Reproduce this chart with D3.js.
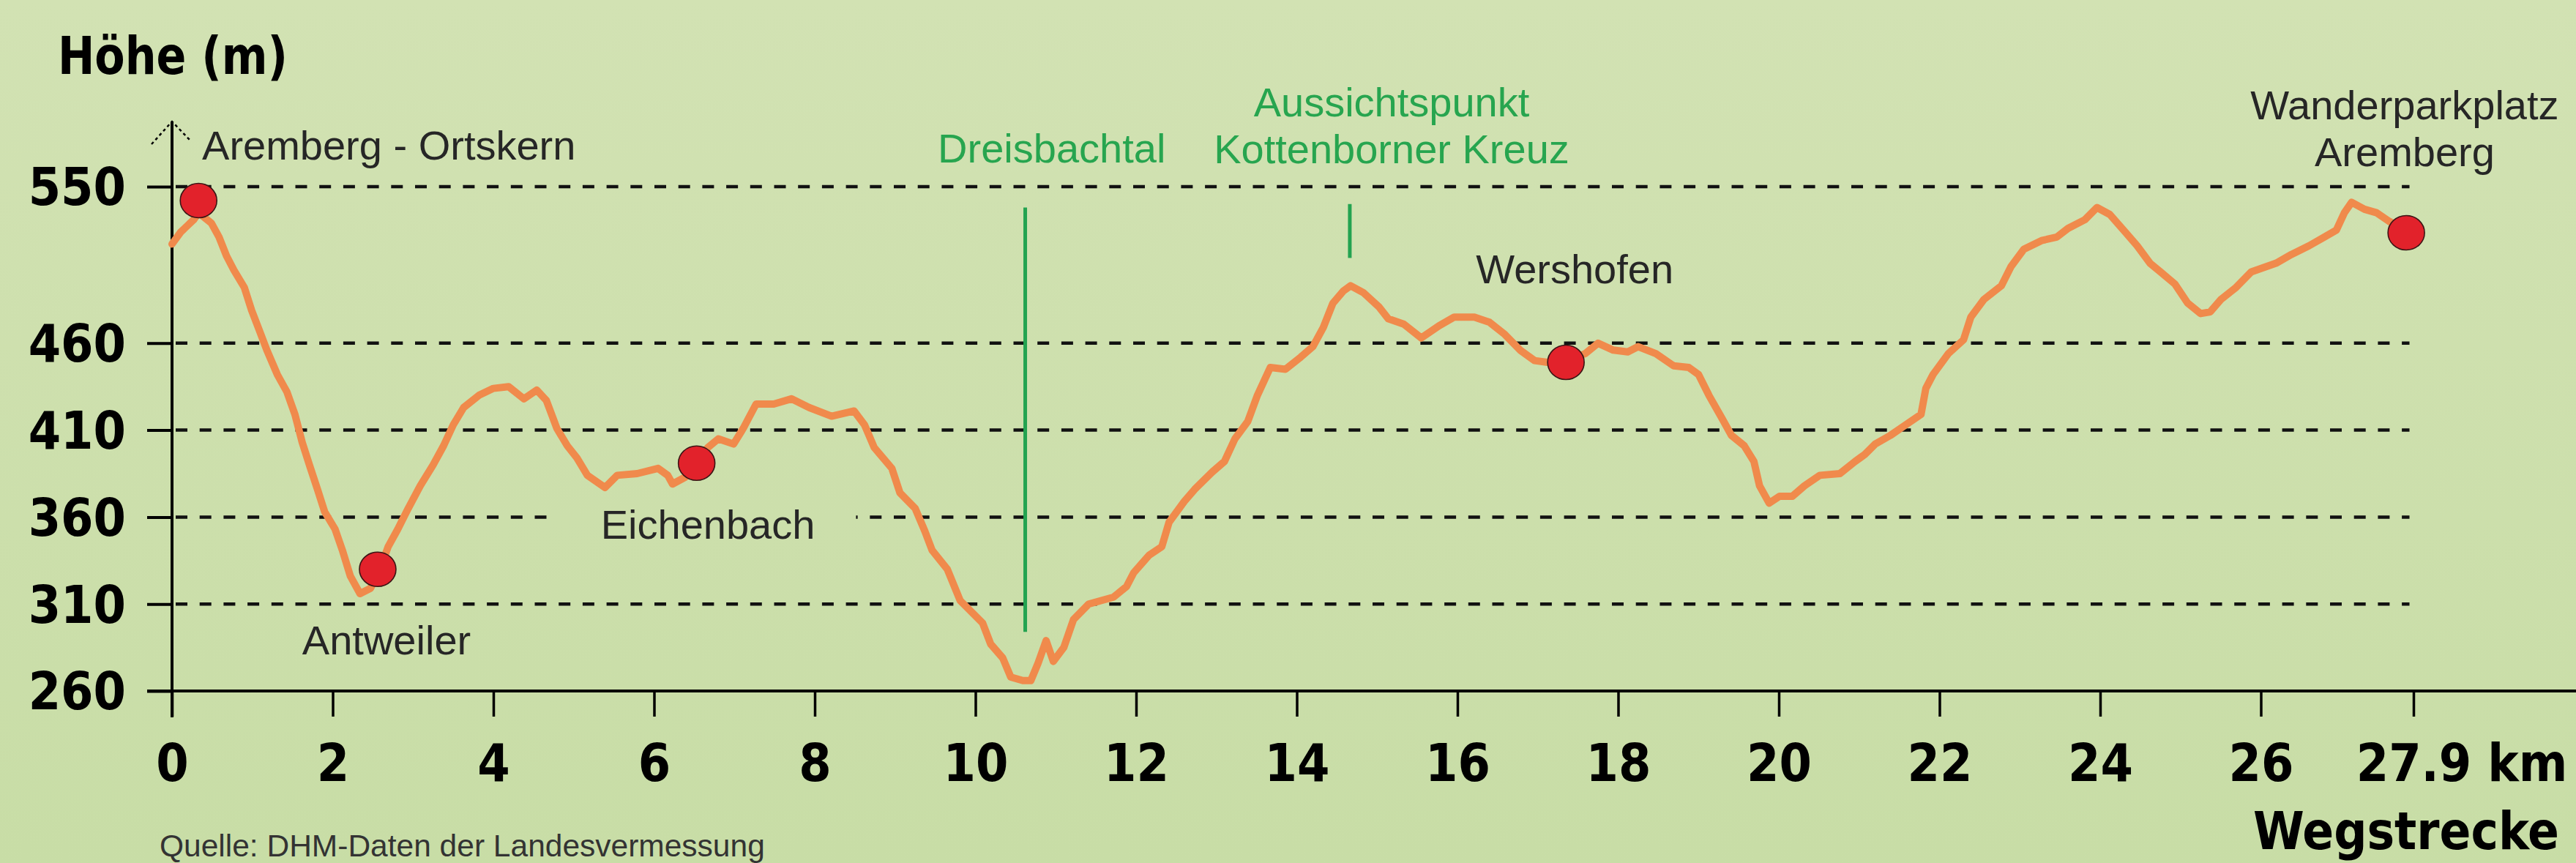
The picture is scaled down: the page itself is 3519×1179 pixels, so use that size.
<!DOCTYPE html>
<html>
<head>
<meta charset="utf-8">
<script src="https://cdn.jsdelivr.net/npm/d3@7"></script>
<style>
body { margin: 0; background: #cde0ad; }
svg { display: block; }
.ax text, .axtitle {
  font-family: "DejaVu Sans Condensed", "DejaVu Sans", sans-serif;
  font-stretch: condensed;
  font-weight: bold;
  font-size: 71px;
  fill: #000;
}
.lbl { font-family: "Liberation Sans", Arial, sans-serif; font-size: 56px; fill: #262626; }
.lbl.green { fill: #27a54f; }
.quelle { font-family: "Liberation Sans", Arial, sans-serif; font-size: 42.5px; fill: #333; }
</style>
</head>
<body>
<svg id="chart" width="3519" height="1179"></svg>
<script>
// Hoehenprofil Aremberg-Rundweg, Werte
var strecke = [
  0, 0.11, 0.27, 0.33, 0.49, 0.585, 0.68, 0.77, 0.9, 0.99,
  1.09, 1.18, 1.31, 1.43, 1.53, 1.62, 1.71, 1.81, 1.9, 2.03,
  2.12, 2.22, 2.34, 2.47, 2.59, 2.69, 2.81, 2.94, 3.09, 3.25,
  3.38, 3.5, 3.63, 3.82, 4.0, 4.19, 4.38, 4.54, 4.66, 4.79,
  4.92, 5.04, 5.17, 5.39, 5.54, 5.79, 6.05, 6.17, 6.23, 6.39,
  6.53, 6.67, 6.8, 6.99, 7.11, 7.27, 7.49, 7.71, 7.93, 8.21,
  8.49, 8.62, 8.74, 8.96, 9.06, 9.25, 9.37, 9.46, 9.65, 9.81,
  9.94, 10.09, 10.19, 10.34, 10.44, 10.59, 10.69, 10.78, 10.88, 10.97,
  11.1, 11.22, 11.41, 11.72, 11.88, 11.97, 12.16, 12.32, 12.41, 12.6,
  12.73, 12.95, 13.1, 13.23, 13.39, 13.51, 13.67, 13.86, 14.05, 14.2,
  14.33, 14.45, 14.58, 14.67, 14.83, 15.02, 15.14, 15.33, 15.55, 15.77,
  15.96, 16.21, 16.4, 16.59, 16.78, 16.96, 17.12, 17.35, 17.59, 17.75,
  17.94, 18.12, 18.25, 18.47, 18.69, 18.88, 19.0, 19.13, 19.29, 19.41,
  19.57, 19.69, 19.76, 19.88, 20.01, 20.17, 20.32, 20.51, 20.76, 20.95,
  21.07, 21.2, 21.39, 21.58, 21.77, 21.83, 21.92, 22.11, 22.3, 22.39,
  22.55, 22.77, 22.89, 23.05, 23.27, 23.46, 23.6, 23.81, 23.96, 24.12,
  24.31, 24.46, 24.62, 24.75, 24.93, 25.09, 25.25, 25.37, 25.5, 25.69,
  25.88, 26.19, 26.38, 26.6, 26.79, 26.94, 27.04, 27.13, 27.29, 27.44,
  27.6, 27.72
];
var hoehe = [
  517, 524, 531, 535, 529, 521, 510, 502, 492, 479,
  467, 456, 442, 432, 419, 403, 390, 376, 363, 353,
  341, 326, 316, 319, 330, 343, 353, 365, 378, 390,
  401, 413, 423, 430, 434, 435, 428, 433, 427, 411,
  401, 394, 384, 377, 384, 385, 388, 384, 379, 383,
  392, 400, 405, 402, 411, 425, 425, 428, 423, 418,
  421, 413, 400, 388, 374, 365, 352, 341, 330, 312,
  306, 299, 287, 279, 268, 266, 266, 276, 289, 277,
  285, 301, 310, 314, 320, 328, 338, 343, 357, 369,
  376, 386, 392, 405, 415, 430, 446, 445, 452, 458,
  469, 483, 490, 493, 489, 481, 474, 471, 463, 470,
  475, 475, 472, 465, 456, 450, 449, 450, 454, 460,
  456, 455, 458, 454, 447, 446, 442, 430, 417, 407,
  401, 392, 378, 368, 372, 372, 378, 384, 385, 392,
  396, 402, 407, 413, 419, 434, 442, 454, 462, 475,
  485, 493, 504, 514, 519, 521, 526, 531, 538, 534,
  524, 516, 506, 501, 494, 483, 477, 478, 485, 492,
  501, 506, 511, 516, 521, 525, 535, 541, 537, 535,
  530, 527
];

var orte = ["Aremberg - Ortskern", "Antweiler", "Eichenbach", "Wershofen", "Wanderparkplatz Aremberg"];
var ortKm = [0.33, 2.56, 6.53, 17.35, 27.81];
var ortHoehe = [542, 330, 391, 449, 523.5];

var merkpunkte = ["Dreisbachtal", "Aussichtspunkt Kottenborner Kreuz"];
var merkKm = [10.62, 14.66];

var yTicks = [260, 310, 360, 410, 460, 550];
var xTicks = [0, 2, 4, 6, 8, 10, 12, 14, 16, 18, 20, 22, 24, 26, 27.9];

var W = 3519, H = 1179;
var x = d3.scaleLinear().domain([0, 27.9]).range([235, 3297]);
var y = d3.scaleLinear().domain([260, 550]).range([944, 255]);

var svg = d3.select("#chart");

var grad = svg.append("defs").append("linearGradient")
  .attr("id", "bg").attr("gradientUnits", "userSpaceOnUse")
  .attr("x1", 0).attr("y1", 0).attr("x2", 0).attr("y2", H);
grad.append("stop").attr("offset", 0).attr("stop-color", "#d2e2b3");
grad.append("stop").attr("offset", 1).attr("stop-color", "#c8dda6");
svg.append("rect").attr("width", W).attr("height", H).attr("fill", "url(#bg)");

var gridG = svg.append("g");
var maskG = svg.append("g");
var axisG = svg.append("g");
var lineG = svg.append("g");
var markG = svg.append("g");
var dotG = svg.append("g");
var textG = svg.append("g");

// gestrichelte Hilfslinien
gridG.selectAll("line")
  .data(yTicks.filter(function(d) { return d > 260; }))
  .join("line")
  .attr("x1", x(0) + 5).attr("x2", x(27.85))
  .attr("y1", y).attr("y2", y)
  .attr("stroke", "#111").attr("stroke-width", 4.5)
  .attr("stroke-dasharray", "16 16.7");

// Achsen
var gy = axisG.append("g").attr("class", "ax")
  .attr("transform", "translate(" + x(0) + ",0)")
  .call(d3.axisLeft(y).tickValues(yTicks).tickSize(34).tickPadding(29));
gy.select(".domain").remove();
gy.selectAll("line").attr("stroke", "#000").attr("stroke-width", 4);
gy.selectAll("text").attr("dy", "0.35em");

var gx = axisG.append("g").attr("class", "ax")
  .attr("transform", "translate(0," + y(260) + ")")
  .call(d3.axisBottom(x).tickValues(xTicks).tickSize(35).tickPadding(38)
    .tickFormat(function(d) { return d === 27.9 ? "27.9" : d; }));
gx.select(".domain").remove();
gx.selectAll("line").attr("stroke", "#000").attr("stroke-width", 3.5);

var last = gx.selectAll(".tick text").filter(function(d) { return d === 27.9; });
var w = last.node().getComputedTextLength();
last.attr("text-anchor", "start").attr("x", -w / 2);
last.append("tspan").attr("dx", 22).text("km");

axisG.append("line")
  .attr("x1", 201).attr("x2", W).attr("y1", y(260)).attr("y2", y(260))
  .attr("stroke", "#000").attr("stroke-width", 4);
axisG.append("line")
  .attr("x1", x(0)).attr("x2", x(0)).attr("y1", 166).attr("y2", y(260) + 36)
  .attr("stroke", "#000").attr("stroke-width", 4);
axisG.append("path")
  .attr("d", "M207,197L" + x(0) + ",166L261,193")
  .attr("fill", "none").attr("stroke", "#000").attr("stroke-width", 2.5)
  .attr("stroke-dasharray", "4 4");

axisG.append("text").attr("class", "axtitle")
  .attr("x", 79).attr("y", 101).attr("textLength", 314)
  .attr("lengthAdjust", "spacingAndGlyphs").text("Höhe (m)");
axisG.append("text").attr("class", "axtitle")
  .attr("x", 3496).attr("y", 1160).attr("text-anchor", "end").attr("textLength", 418)
  .attr("lengthAdjust", "spacingAndGlyphs").text("Wegstrecke");
axisG.append("text").attr("class", "quelle")
  .attr("x", 218).attr("y", 1170).text("Quelle: DHM-Daten der Landesvermessung");

// Profil
var profil = d3.line()
  .x(function(d, i) { return x(strecke[i]); })
  .y(function(d) { return y(d); });
lineG.append("path").datum(hoehe)
  .attr("d", profil)
  .attr("fill", "none").attr("stroke", "#f08a4c").attr("stroke-width", 10)
  .attr("stroke-linejoin", "round").attr("stroke-linecap", "round");

// gruene Markierungen
var merkVon = [294, 509], merkBis = [538, 540];
markG.selectAll("line").data(merkpunkte).join("line")
  .attr("x1", function(d, i) { return x(merkKm[i]); })
  .attr("x2", function(d, i) { return x(merkKm[i]); })
  .attr("y1", function(d, i) { return y(merkBis[i]); })
  .attr("y2", function(d, i) { return y(merkVon[i]); })
  .attr("stroke", "#23a350").attr("stroke-width", 5);

// Orte
dotG.selectAll("ellipse").data(orte).join("ellipse")
  .attr("cx", function(d, i) { return x(ortKm[i]); })
  .attr("cy", function(d, i) { return y(ortHoehe[i]); })
  .attr("rx", 25).attr("ry", 23.5)
  .attr("fill", "#e2222b").attr("stroke", "#3b1515").attr("stroke-width", 1.6);

// Beschriftungen
var texte = [
  { t: ["Aremberg - Ortskern"], km: 0.374, m: 565.6, a: "start" },
  { t: ["Antweiler"], km: 2.67, m: 281, a: "middle" },
  { t: ["Eichenbach"], km: 6.67, m: 347.5, a: "middle", mask: true },
  { t: ["Wershofen"], km: 17.46, m: 494.4, a: "middle" },
  { t: ["Wanderparkplatz", "Aremberg"], km: 27.79, m: 588.7, a: "middle" },
  { t: ["Dreisbachtal"], km: 10.95, m: 563.9, a: "middle", green: true },
  { t: ["Aussichtspunkt", "Kottenborner Kreuz"], km: 15.18, m: 590.4, a: "middle", green: true }
];
texte.forEach(function(b) {
  var el = textG.append("text")
    .attr("class", b.green ? "lbl green" : "lbl")
    .attr("text-anchor", b.a)
    .attr("x", x(b.km)).attr("y", y(b.m));
  b.t.forEach(function(s, i) {
    el.append("tspan").attr("x", x(b.km)).attr("dy", i ? 64 : 0).text(s);
  });
  if (b.mask) {
    var bb = el.node().getBBox();
    maskG.append("rect")
      .attr("x", bb.x - 68).attr("y", bb.y - 4)
      .attr("width", bb.width + 124).attr("height", bb.height + 8)
      .attr("fill", "url(#bg)");
  }
});
</script>
</body>
</html>
